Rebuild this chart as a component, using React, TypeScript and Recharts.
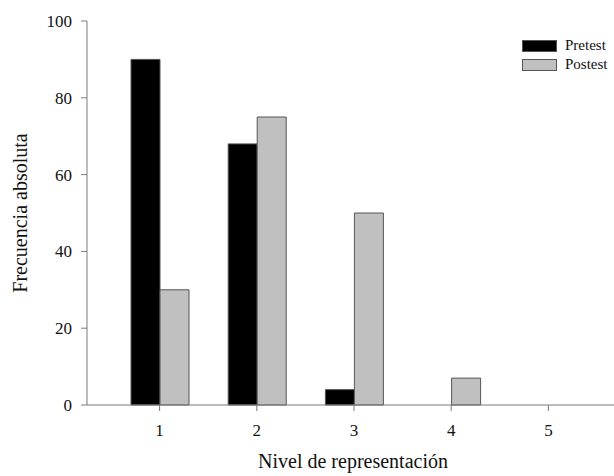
import React from "react";
import { BarChart, Bar, XAxis, YAxis } from "recharts";

const categories = ["1", "2", "3", "4", "5"];
const pretest = [90, 68, 4, 0, 0];
const postest = [30, 75, 50, 7, 0];
const yTicks = [0, 20, 40, 60, 80, 100];

const data = categories.map((c, i) => ({ cat: c, Pretest: pretest[i], Postest: postest[i] }));

const FONT = "'Liberation Serif', 'Times New Roman', serif";
const AXIS = "#7a7a7a";

const legendItems = [
  { name: "Pretest", fill: "#000000" },
  { name: "Postest", fill: "#c0c0c0" },
];

function LegendBox() {
  return (
    <div
      style={{
        position: "absolute",
        left: 522,
        top: 36,
        fontFamily: FONT,
        fontSize: 15,
        color: "#111",
      }}
    >
      {legendItems.map((it) => (
        <div key={it.name} style={{ display: "flex", alignItems: "center", height: 19 }}>
          <div
            style={{
              width: 33,
              height: 10,
              background: it.fill,
              border: "1px solid #555",
              marginRight: 8,
            }}
          />
          <span>{it.name}</span>
        </div>
      ))}
    </div>
  );
}

const tickStyle = { fill: "#111", fontFamily: FONT, fontSize: 17 };

export default function App() {
  return (
    <div style={{ position: "absolute", left: 0, top: 0, width: 614, height: 476, background: "#fff", overflow: "hidden" }}>
      <BarChart
        width={614}
        height={476}
        data={data}
        margin={{ top: 21, right: 0, bottom: 0, left: 0 }}
        barSize={29}
        barGap={0}
      >
        <XAxis
          xAxisId="top"
          orientation="top"
          dataKey="cat"
          height={0}
          stroke={AXIS}
          tick={false}
          tickLine={false}
          padding={{ left: 24, right: 17 }}
        />
        <XAxis
          dataKey="cat"
          padding={{ left: 24, right: 17 }}
          height={71}
          stroke={AXIS}
          tickSize={6}
          tickMargin={13}
          tick={tickStyle}
          label={{
            content: (props: any) => {
              const vb = props.viewBox || {};
              return (
                <text
                  x={353}
                  y={vb.y + 63}
                  textAnchor="middle"
                  fontFamily={FONT}
                  fontSize={20}
                  fill="#111"
                >
                  Nivel de representación
                </text>
              );
            },
          }}
        />
        <YAxis
          width={87}
          domain={[0, 100]}
          ticks={yTicks}
          interval={0}
          stroke={AXIS}
          tickSize={6}
          tickMargin={9}
          tick={tickStyle}
          label={{
            content: (props: any) => {
              const vb = props.viewBox || {};
              const cy = vb.y + vb.height / 2;
              return (
                <text
                  x={27}
                  y={cy}
                  transform={`rotate(-90, 27, ${cy})`}
                  textAnchor="middle"
                  fontFamily={FONT}
                  fontSize={20}
                  fill="#111"
                >
                  Frecuencia absoluta
                </text>
              );
            },
          }}
        />
        <Bar dataKey="Pretest" fill="#000000" stroke="#555" strokeWidth={1} isAnimationActive={false} />
        <Bar dataKey="Postest" fill="#c0c0c0" stroke="#555" strokeWidth={1} isAnimationActive={false} />
      </BarChart>
      <div style={{ position: "absolute", left: 606, top: 23, width: 8, height: 380, background: "#fff" }} />
      <LegendBox />
    </div>
  );
}
